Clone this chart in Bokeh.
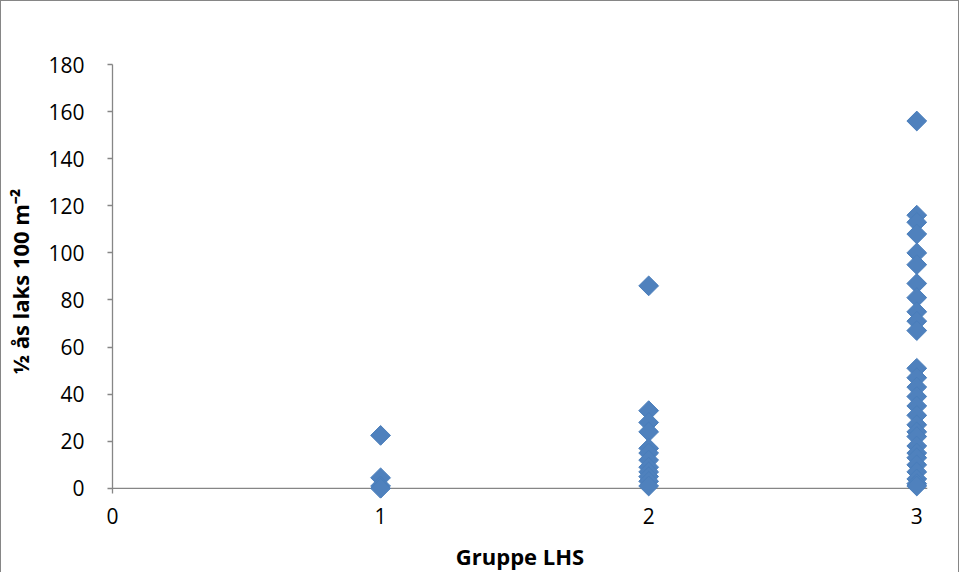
import math
from bokeh.plotting import figure
from bokeh.models import Range1d, FixedTicker, Span, ColumnDataSource
from bokeh.embed import file_html
from bokeh.resources import INLINE

# ---- data ----
group_ids = [1, 2, 3]
group1_y = [22.5, 4.5, 1.0, 0.0]
group2_y = [86, 33, 28, 24, 17, 15, 12, 9, 7, 5, 3, 1]
group3_y = [156, 116, 113, 108, 100, 95, 87, 81, 75, 71, 67,
            51, 47, 43, 39, 35, 31, 27, 24, 22, 18, 15, 13, 10, 7, 4, 2, 1]
x_ticks = [0, 1, 2, 3]
y_ticks = [0, 20, 40, 60, 80, 100, 120, 140, 160, 180]
x_label = "Gruppe LHS"
y_label = "½ ås laks 100 m⁻²"

xs, ys = [], []
for gid, vals in zip(group_ids, [group1_y, group2_y, group3_y]):
    xs += [gid] * len(vals)
    ys += vals
src = ColumnDataSource(dict(x=xs, y=ys))

AXIS = "#868686"
FONT = "Open Sans"

p = figure(width=959, height=572, output_backend="svg", toolbar_location=None,
           x_range=Range1d(0, 3.04), y_range=Range1d(-4.3, 180),
           min_border_left=111, min_border_top=63, min_border_right=33,
           min_border_bottom=75)
p.styles = {"border-top": f"1px solid {AXIS}", "border-left": f"1px solid {AXIS}",
            "border-right": f"1px solid {AXIS}"}
p.outline_line_color = None
p.grid.visible = False
p.background_fill_color = "white"
p.border_fill_color = "white"

# baseline at y=0 (x axis line), drawn beneath markers
p.add_layout(Span(location=0, dimension="width", line_color=AXIS, line_width=1.3,
                  level="underlay"))

p.scatter("x", "y", source=src, marker="square", angle=math.pi / 4, size=14,
          fill_color="#4F81BD", line_color="#4A7EBB", line_width=1)

# x axis
xa = p.xaxis[0]
xa.ticker = FixedTicker(ticks=x_ticks)
xa.axis_line_color = None
xa.major_tick_in = 0
xa.major_tick_out = 0
xa.minor_tick_line_color = None
xa.major_label_standoff = 9
xa.major_label_text_font = FONT
xa.major_label_text_font_size = "21px"
xa.major_label_text_color = "black"
xa.axis_label = x_label
xa.axis_label_text_font = FONT
xa.axis_label_text_font_size = "22px"
xa.axis_label_text_font_style = "bold"
xa.axis_label_text_color = "black"
xa.axis_label_standoff = 14

# y axis
ya = p.yaxis[0]
ya.ticker = FixedTicker(ticks=y_ticks)
ya.bounds = (-2.1, 180)
ya.axis_line_color = AXIS
ya.axis_line_width = 1.3
ya.major_tick_line_color = AXIS
ya.major_tick_line_width = 1.3
ya.major_tick_in = 0
ya.major_tick_out = 5
ya.minor_tick_line_color = None
ya.major_label_standoff = 23
ya.major_label_text_font = FONT
ya.major_label_text_font_size = "21px"
ya.major_label_text_color = "black"
ya.axis_label = y_label
ya.axis_label_text_font = FONT
ya.axis_label_text_font_size = "22px"
ya.axis_label_text_font_style = "bold"
ya.axis_label_text_color = "black"
ya.axis_label_standoff = 10

open("out.html", "w").write(file_html(p, INLINE))
